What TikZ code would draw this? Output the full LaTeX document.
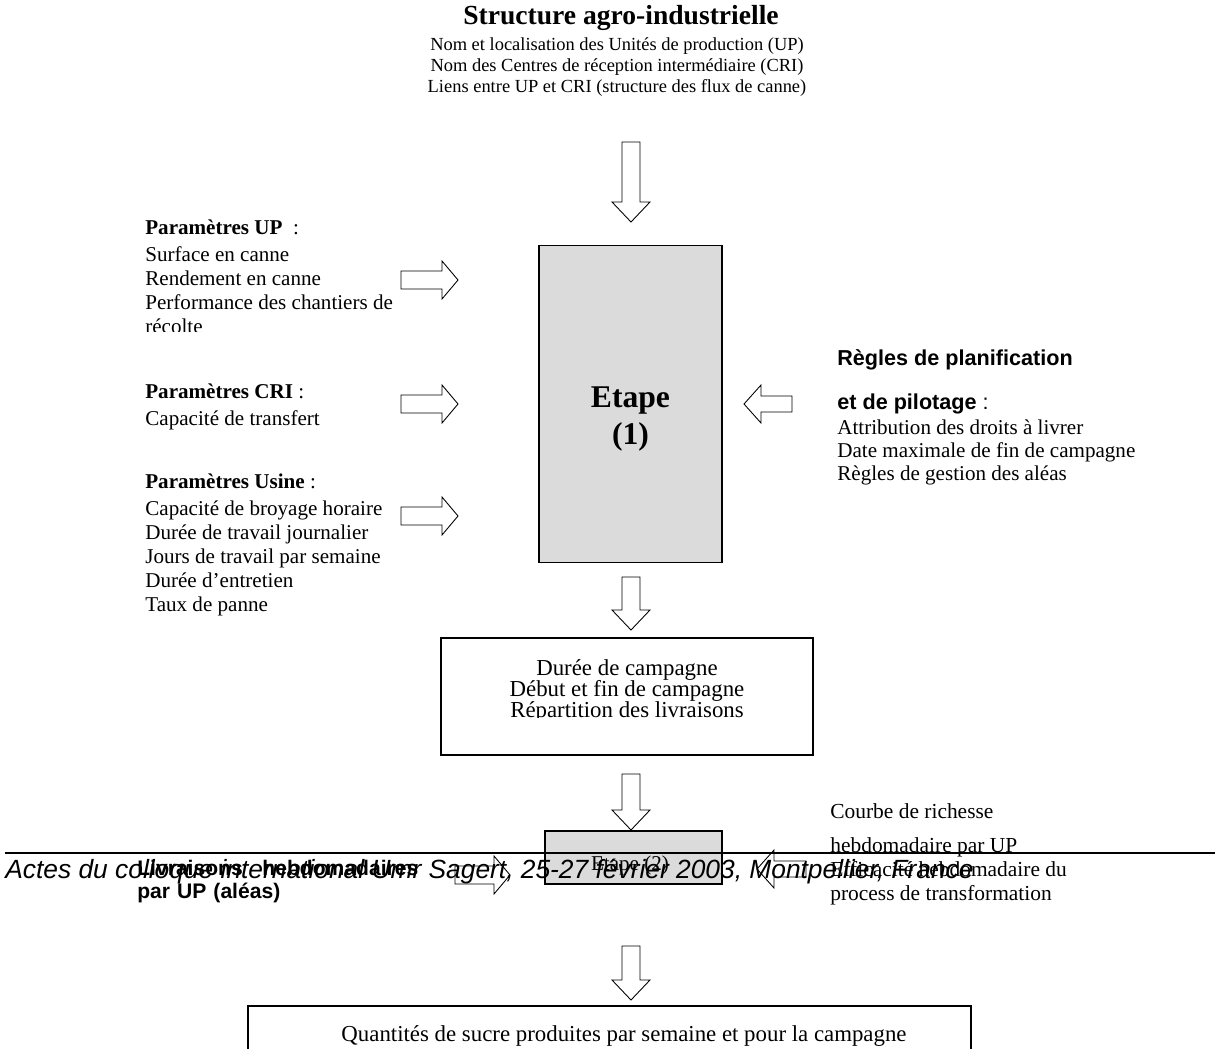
\documentclass[tikz,border=0pt]{standalone}
\usepackage{fontspec}
\setmainfont{Liberation Serif}
\setsansfont{Liberation Sans}

\tikzset{
  texte/.style={inner sep=0, align=left, font=\fontsize{12}{13.7}\selectfont},
  titre/.style={inner sep=0, font=\bfseries\fontsize{15.7}{17}\selectfont},
  etape/.style={draw, line width=0.8pt, fill=black!14, align=center, inner sep=0},
  boite/.style={draw, line width=0.8pt, inner sep=0},
  fleche/.style={draw, line width=0.5pt, fill=white},
  pied/.style={line width=1pt}
}

% grosses fleches : bas {x}{haut}{pointe}, droite/gauche {y}{debut}{fin}
\newcommand{\flechebas}[3]{\draw[fleche] (#1-9,#2) -- (#1+9,#2) -- (#1+9,#3-20) -- (#1+19,#3-20) -- (#1,#3) -- (#1-19,#3-20) -- (#1-9,#3-20) -- cycle;}
\newcommand{\flechedroite}[3]{\draw[fleche] (#2,#1-9) -- (#3-16,#1-9) -- (#3-16,#1-19) -- (#3,#1) -- (#3-16,#1+19) -- (#3-16,#1+9) -- (#2,#1+9) -- cycle;}
\newcommand{\flechegauche}[3]{\draw[fleche] (#3,#1-8) -- (#2+17,#1-8) -- (#2+17,#1-19) -- (#2,#1) -- (#2+17,#1+19) -- (#2+17,#1+8) -- (#3,#1+8) -- cycle;}

\begin{document}
\begin{tikzpicture}[x=0.02cm,y=-0.02cm]
\clip (0,0) rectangle (1215,1049);

% structure
\node[titre] (titre) at (621,18) {Structure agro-industrielle};
\node[texte, anchor=north, align=center, font=\fontsize{10.5}{12}\selectfont] (structure) at (617,37) {Nom et localisation des Unités de production (UP)\\ Nom des Centres de réception intermédiaire (CRI)\\ Liens entre UP et CRI (structure des flux de canne)};
\flechebas{631}{142}{222}

% etape 1 et ses entrees
\node[etape, minimum width=3.66cm, minimum height=6.34cm] (etape1) at (630.5,404) {};
\node[texte, align=center, font=\bfseries\fontsize{18}{21}\selectfont] (etape1texte) at (630.5,419) {Etape\\(1)};

\begin{scope}
  \clip (100,150) rectangle (440,331);
  \node[texte, anchor=north west] (paramUP) at (145,219) {\textbf{Paramètres UP}\enspace:\\[1.7pt] Surface en canne\\ Rendement en canne\\ Performance des chantiers de\\ récolte};
\end{scope}
\node[texte, anchor=north west] (paramCRI) at (145,383) {\textbf{Paramètres CRI} :\\[1.7pt] Capacité de transfert};
\node[texte, anchor=north west] (paramUsine) at (145,473) {\textbf{Paramètres Usine} :\\[1.7pt] Capacité de broyage horaire\\ Durée de travail journalier\\ Jours de travail par semaine\\ Durée d’entretien\\ Taux de panne};
\flechedroite{280}{401}{458}
\flechedroite{404}{401}{458}
\flechedroite{516}{401}{458}

\node[texte, anchor=north west, font=\sffamily\bfseries\fontsize{12.3}{13}\selectfont] (reglestitre) at (837,349) {Règles de planification\\[12pt] et de pilotage \textmd{:}};
\node[texte, anchor=north west, font=\fontsize{12}{13.2}\selectfont] (reglesliste) at (837,419) {Attribution des droits à livrer\\ Date maximale de fin de campagne\\ Règles de gestion des aléas};
\flechegauche{404}{744}{792}

% sorties etape 1
\flechebas{631}{577}{630}
\node[boite, minimum width=7.44cm, minimum height=2.34cm] (duree) at (627,696.5) {};
\begin{scope}
  \clip (441,638) rectangle (813,717);
  \node[texte, anchor=north, align=center, font=\fontsize{13}{12}\selectfont] (dureetexte) at (627,659) {Durée de campagne\\ Début et fin de campagne\\ Répartition des livraisons};
\end{scope}
\flechebas{631}{774}{830}

% etape 2
\node[etape, minimum width=3.54cm, minimum height=1.06cm] (etape2) at (633.5,857.5) {};
\node[texte] (etape2texte) at (630,865) {Etape (2)};
\node[texte, anchor=north west, text width=5.62cm, font=\sffamily\bfseries\fontsize{12}{13.1}\selectfont] (livraisons) at (137,860) {Livraisons\hfill hebdomadaires\\ par UP (aléas)};
\flechedroite{875}{455}{510}
\flechegauche{869}{757}{806}
\node[texte, anchor=north west, font=\fontsize{12.2}{13.7}\selectfont] (richesse) at (830,803) {Courbe de richesse\\[5.7pt] hebdomadaire par UP\\ Efficacité hebdomadaire du\\ process de transformation};

% pied de page
\draw[pied] (5,853) -- (1215,853);
\node[texte, anchor=base west, font=\sffamily\itshape\fontsize{15}{17}\selectfont] (pied) at (5,878) {Actes du colloque international Umr Sagert, 25-27 février 2003, Montpellier, France};

% sortie etape 2
\flechebas{631}{946}{1000}
\node[boite, minimum width=14.46cm, minimum height=2cm] (quantites) at (609.5,1056) {};
\node[texte, font=\fontsize{13}{14}\selectfont] (quantitestexte) at (624,1036) {Quantités de sucre produites par semaine et pour la campagne};
\end{tikzpicture}
\end{document}
